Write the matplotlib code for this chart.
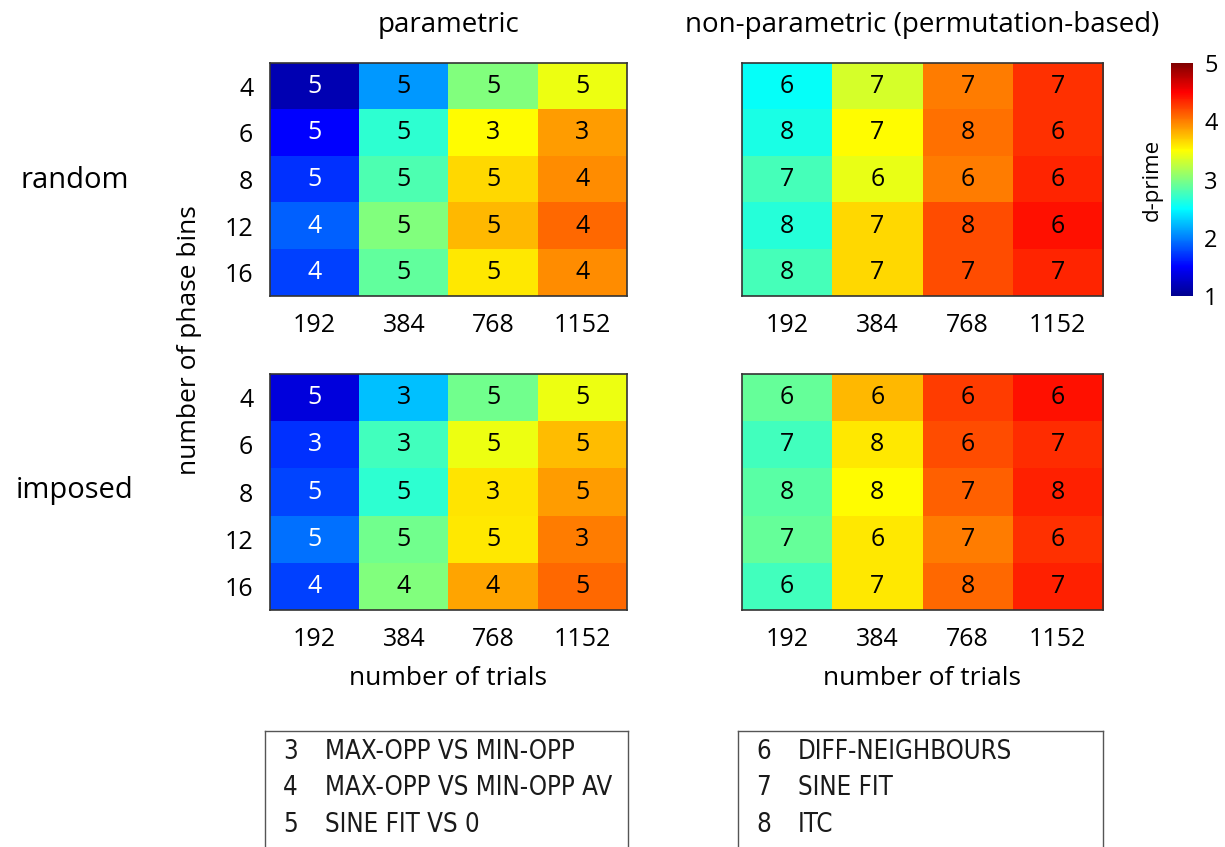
import numpy as np
import matplotlib.pyplot as plt
from matplotlib.colors import LinearSegmentedColormap

plt.rcParams['font.family'] = ['Open Sans', 'DejaVu Sans']

trials = ['192', '384', '768', '1152']
phase_bins = ['4', '6', '8', '12', '16']

# d-prime values, rows = phase bins, cols = number of trials
dp_param_random = [
    [1.17, 2.10, 3.00, 3.43],
    [1.50, 2.68, 3.50, 3.88],
    [1.70, 2.80, 3.65, 3.95],
    [1.88, 3.00, 3.78, 4.08],
    [1.75, 2.88, 3.58, 3.95],
]
dp_nonparam_random = [
    [2.53, 3.33, 4.00, 4.30],
    [2.60, 3.50, 4.05, 4.30],
    [2.77, 3.42, 4.00, 4.35],
    [2.65, 3.65, 4.20, 4.43],
    [2.77, 3.65, 4.20, 4.35],
]
dp_param_imposed = [
    [1.35, 2.25, 2.95, 3.43],
    [1.70, 2.75, 3.43, 3.75],
    [1.78, 2.68, 3.60, 3.88],
    [1.95, 2.95, 3.58, 4.00],
    [1.75, 3.00, 3.85, 4.08],
]
dp_nonparam_imposed = [
    [2.90, 3.78, 4.25, 4.43],
    [2.75, 3.58, 4.20, 4.32],
    [2.85, 3.50, 4.12, 4.37],
    [2.90, 3.58, 4.00, 4.30],
    [2.75, 3.58, 4.08, 4.37],
]

# best method id per cell
best_param_random = [[5, 5, 5, 5], [5, 5, 3, 3], [5, 5, 5, 4], [4, 5, 5, 4], [4, 5, 5, 4]]
best_nonparam_random = [[6, 7, 7, 7], [8, 7, 8, 6], [7, 6, 6, 6], [8, 7, 8, 6], [8, 7, 7, 7]]
best_param_imposed = [[5, 3, 5, 5], [3, 3, 5, 5], [5, 5, 3, 5], [5, 5, 5, 3], [4, 4, 4, 5]]
best_nonparam_imposed = [[6, 6, 6, 6], [7, 8, 6, 7], [8, 8, 7, 8], [7, 6, 7, 6], [6, 7, 8, 7]]

param_methods = [('3', 'MAX-OPP VS MIN-OPP'), ('4', 'MAX-OPP VS MIN-OPP AV'), ('5', 'SINE FIT VS 0')]
nonparam_methods = [('6', 'DIFF-NEIGHBOURS'), ('7', 'SINE FIT'), ('8', 'ITC')]

# matlab-style jet
mjet = LinearSegmentedColormap('mjet', {
    'red': [(0, 0, 0), (0.375, 0, 0), (0.625, 1, 1), (0.875, 1, 1), (1, 0.5, 0.5)],
    'green': [(0, 0, 0), (0.125, 0, 0), (0.375, 1, 1), (0.625, 1, 1), (0.875, 0, 0), (1, 0, 0)],
    'blue': [(0, 0.5625, 0.5625), (0.125, 1, 1), (0.375, 1, 1), (0.625, 0, 0), (1, 0, 0)],
}, N=256)

fig = plt.figure(figsize=(12.25, 8.47), dpi=100)

panels = [
    ([0.2204, 0.6505, 0.2914, 0.2751], dp_param_random, best_param_random, True),
    ([0.6057, 0.6505, 0.2947, 0.2751], dp_nonparam_random, best_nonparam_random, False),
    ([0.2204, 0.2798, 0.2914, 0.2786], dp_param_imposed, best_param_imposed, True),
    ([0.6057, 0.2798, 0.2947, 0.2786], dp_nonparam_imposed, best_nonparam_imposed, False),
]

axes = []
for rect, dp, best, white_first in panels:
    ax = fig.add_axes(rect)
    im = ax.imshow(np.array(dp), cmap=mjet, vmin=1, vmax=5, aspect='auto')
    for i in range(len(phase_bins)):
        for j in range(len(trials)):
            col = 'white' if (white_first and j == 0) else 'black'
            ax.text(j, i, str(best[i][j]), ha='center', va='center', fontsize=18, color=col)
    ax.set_xticks(range(len(trials)))
    ax.set_xticklabels(trials, fontsize=18)
    ax.set_yticks(range(len(phase_bins)))
    ax.set_yticklabels(phase_bins, fontsize=18)
    ax.tick_params(length=0, pad=12)
    for s in ax.spines.values():
        s.set_color('#333333')
        s.set_linewidth(1.2)
    axes.append(ax)

axes[1].set_yticklabels([])
axes[3].set_yticklabels([])
axes[2].set_xlabel('number of trials', fontsize=19, labelpad=10)
axes[3].set_xlabel('number of trials', fontsize=19, labelpad=10)
axes[0].set_title('parametric', fontsize=20, pad=22)
axes[1].set_title('non-parametric (permutation-based)', fontsize=20, pad=22)

fig.text(190 / 1225, 1 - 340 / 847, 'number of phase bins', rotation=90, ha='center', va='center', fontsize=19)
fig.text(75 / 1225, 1 - 180 / 847, 'random', ha='center', va='center', fontsize=21)
fig.text(75 / 1225, 1 - 490 / 847, 'imposed', ha='center', va='center', fontsize=21)

# colorbar
cax = fig.add_axes([0.956, 0.6505, 0.018, 0.2751])
cb = fig.colorbar(im, cax=cax, ticks=[1, 2, 3, 4, 5])
cb.ax.tick_params(length=0, labelsize=17, pad=8)
cb.outline.set_visible(False)
cb.ax.yaxis.set_label_position('left')
cb.set_label('d-prime', fontsize=16, labelpad=6)

# method keys
for rect, items in [([0.2163, -0.05, 0.2963, 0.187], param_methods),
                    ([0.6024, -0.05, 0.298, 0.187], nonparam_methods)]:
    lax = fig.add_axes(rect)
    lax.set_xlim(0, 1)
    lax.set_ylim(0, 1)
    lax.set_xticks([])
    lax.set_yticks([])
    for s in lax.spines.values():
        s.set_color('#555555')
        s.set_linewidth(1)
    for k, (num, name) in enumerate(items):
        y = 0.87 - k * 0.233
        lax.text(0.05, y, num, ha='left', va='center', fontsize=18.5,
                 family='DejaVu Sans', fontstretch='condensed', color='#1a1a1a')
        lax.text(0.165, y, name, ha='left', va='center', fontsize=18.5,
                 family='DejaVu Sans', fontstretch='condensed', color='#1a1a1a')

fig.savefig('out.png', dpi=100)
